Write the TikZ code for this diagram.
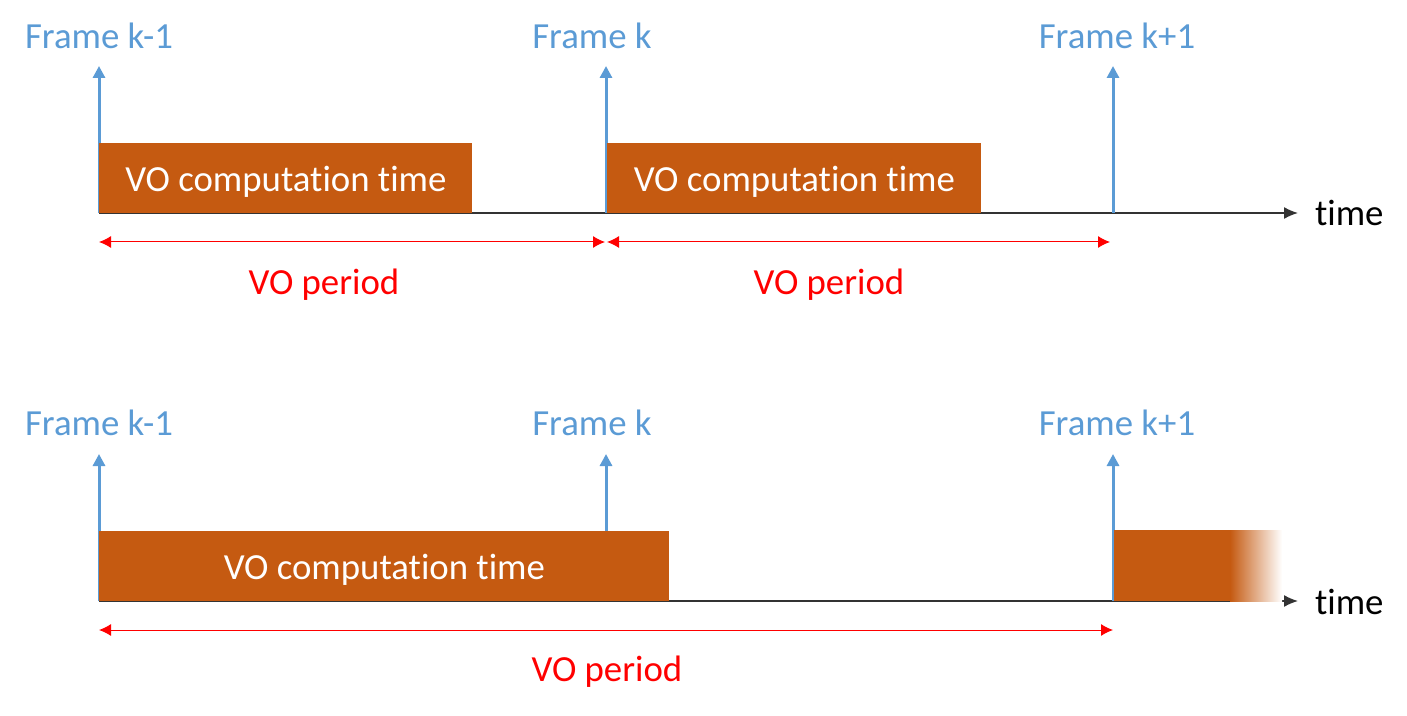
\documentclass[tikz,border=0pt]{standalone}
\usepackage{fontspec}
\setmainfont{Carlito}[Ligatures=NoCommon]
\usetikzlibrary{arrows.meta}
\definecolor{frameblue}{RGB}{91,155,213}
\definecolor{voorange}{RGB}{197,90,17}
\begin{document}
\begin{tikzpicture}
[
    x=0.5pt, y=-0.5pt,
    every node/.style={font=\fontsize{18.4}{22}\selectfont},
    axis/.style={draw=black!80, line width=0.75pt, -{Latex[length=7pt,width=6pt]}},
    framearrow/.style={draw=frameblue, line width=1.5pt, -{Triangle[length=6pt,width=6pt]}},
    framelabel/.style={text=frameblue, anchor=base},
    period/.style={draw=red, line width=0.5pt, {Latex[length=6pt,width=6pt]}-{Latex[length=6pt,width=6pt]}},
    periodlabel/.style={text=red, anchor=base},
    vobox/.style={fill=voorange, text=white, inner sep=0pt, anchor=south west, minimum height=35pt,
        text height=13.5pt, text depth=0pt}
]
    \useasboundingbox (0,0) rectangle (1407,716);

    % top row
    \coordinate (t0) at (99,213);
    \coordinate (t1) at (606,213);
    \coordinate (t2) at (1113,213);
    \coordinate (tend) at (1298,213);
    \coordinate (ttip0) at (99,66);
    \coordinate (ttip1) at (606,66);
    \coordinate (ttip2) at (1113,66);
    \node [framelabel] (tlab0) at (99,49) {Frame k-1};
    \node [framelabel] (tlab1) at (592,49) {Frame k};
    \node [framelabel] (tlab2) at (1117,49) {Frame k+1};
    \node [anchor=base west] (ttime) at (1308,226) {time};
    \draw [axis] (t0) -- (tend);
    \draw [framearrow] (t0) -- (ttip0);
    \draw [framearrow] (t1) -- (ttip1);
    \draw [framearrow] (t2) -- (ttip2);
    \node [vobox, minimum width=186.5pt] (tbox0) at (99,213) {VO computation time};
    \node [vobox, minimum width=187pt] (tbox1) at (607,213) {VO computation time};
    \coordinate (tp0) at (99,242);
    \coordinate (tp1) at (605,242);
    \coordinate (tp2) at (607,242);
    \coordinate (tp3) at (1110,242);
    \draw [period] (tp0) -- (tp1);
    \draw [period] (tp2) -- (tp3);
    \node [periodlabel] (tper0) at (324,295) {VO period};
    \node [periodlabel] (tper1) at (829,295) {VO period};

    % bottom row
    \coordinate (b0) at (99,601);
    \coordinate (b1) at (606,601);
    \coordinate (b2) at (1113,601);
    \coordinate (bend) at (1298,601);
    \coordinate (btip0) at (99,454);
    \coordinate (btip1) at (606,454);
    \coordinate (btip2) at (1113,454);
    \node [framelabel] (blab0) at (99,435) {Frame k-1};
    \node [framelabel] (blab1) at (592,435) {Frame k};
    \node [framelabel] (blab2) at (1117,435) {Frame k+1};
    \node [anchor=base west] (btime) at (1308,614) {time};
    \draw [axis] (b0) -- (bend);
    \draw [framearrow] (b0) -- (btip0);
    \draw [framearrow] (b1) -- (btip1);
    \draw [framearrow] (b2) -- (btip2);
    \node [vobox, minimum width=285pt] (bbox0) at (99,601) {VO computation time};
    \fill [voorange] (1114,530) rectangle (1231,601);
    \shade [left color=voorange, right color=white] (1230,530) rectangle (1282,601);
    \coordinate (bp0) at (99,630);
    \coordinate (bp1) at (1113,630);
    \draw [period] (bp0) -- (bp1);
    \node [periodlabel] (bper0) at (607,681) {VO period};
\end{tikzpicture}
\end{document}
